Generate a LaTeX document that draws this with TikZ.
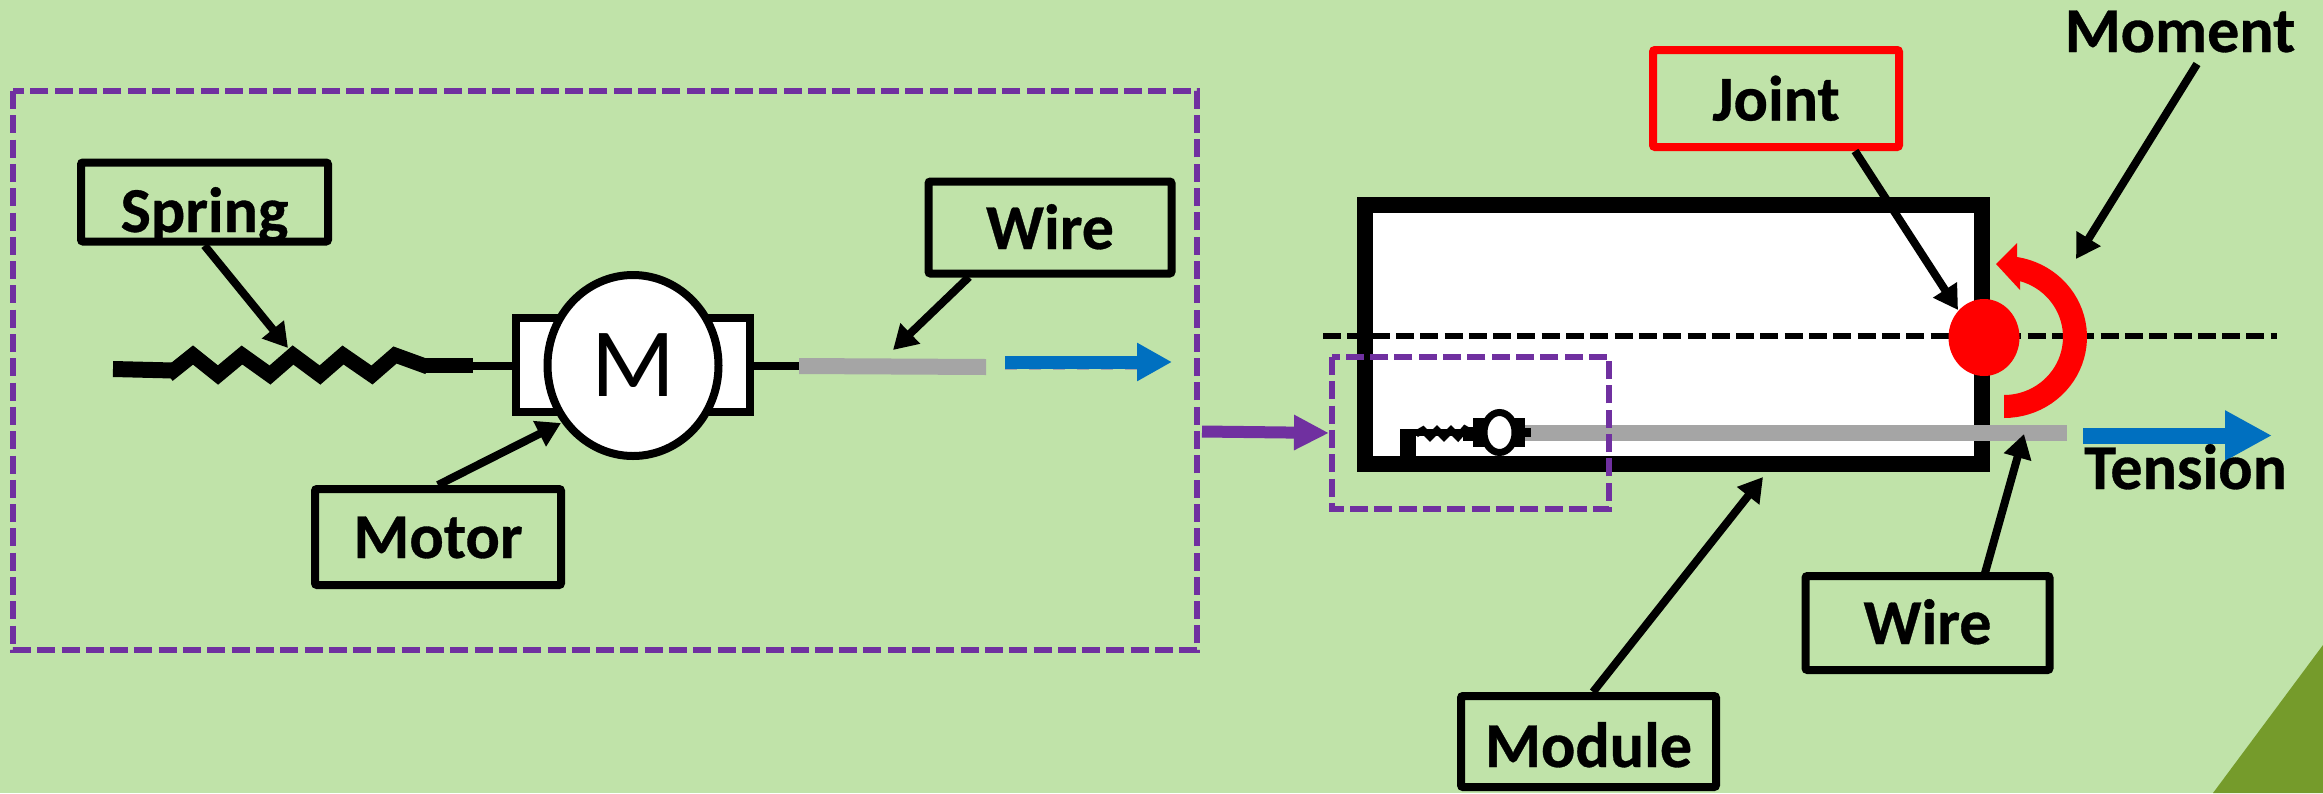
\documentclass[tikz,border=0pt]{standalone}
\usepackage{fontspec}
\setmainfont{Carlito}[BoldFeatures={FakeBold=0.5}]
\usetikzlibrary{arrows.meta,shapes.geometric}
\definecolor{bgc}{HTML}{C0E3A9}
\definecolor{cornerc}{HTML}{759B2B}
\definecolor{purp}{HTML}{7030A0}
\definecolor{bluec}{HTML}{0070C0}
\definecolor{greyc}{HTML}{A5A5A5}
\tikzset{
  lbl/.style={inner sep=0pt,font=\fontsize{64}{64}\selectfont\bfseries},
  lblbox/.style n args={3}{draw=black,line width=8pt,rounded corners=2pt,inner sep=0pt,minimum width=#1,minimum height=#2,
     text height=#3,text depth=0pt,font=\fontsize{64}{64}\selectfont\bfseries},
  pointer/.style={draw=black,line width=8pt,-{Triangle[length=24pt,width=27pt]}},
  purpledash/.style={draw=purp,line width=6pt,dash pattern=on 18pt off 6.3pt},
  axisline/.style={draw=black,line width=6pt,dash pattern=on 18pt off 6.3pt},
  wiregrey/.style={fill=greyc,draw=none},
}
\begin{document}
\begin{tikzpicture}[x=1pt,y=-1pt]
\useasboundingbox (0,0) rectangle (2323,793);
\fill[bgc] (0,0) rectangle (2323,793);
\fill[cornerc] (2213,793) -- (2323,645) -- (2323,793) -- cycle;
% left dashed frame
\draw[purpledash] (13,91) rectangle (1197,650);
% spring
\draw[line width=16pt] (113,369) -- (173,370.5);
\draw[line width=15pt,miter limit=3] (168,375) -- (193,355) -- (218,375) -- (242,355) -- (270,375) -- (293,355) -- (320,375) -- (343,355) -- (372,375) -- (395,355) -- (428,367);
\draw[line width=15pt] (423,365.5) -- (473,365.5);
\draw[line width=8pt] (473,365.5) -- (512,365.5);
% motor
\draw[line width=8pt] (754,366) -- (802,366);
\node[draw=black,fill=white,line width=8pt,minimum width=234pt,minimum height=94pt,inner sep=0pt] (motorbody) at (633,365) {};
\node[draw=black,fill=white,line width=8pt,ellipse,minimum width=171pt,minimum height=181pt,inner sep=0pt,font=\fontsize{98}{98}\selectfont] (motorm) at (633,365.5) {M};
\fill[wiregrey] (799,358) -- (986,359) -- (986,375) -- (799,374) -- cycle;
\coordinate (bluestart) at (1005,362);
\coordinate (blueend) at (1172,362);
\draw[greyc,line width=12pt,dash pattern=on 12pt off 12pt] (1005,364) -- (1137,364);
\draw[bluec,line width=13pt,-{Triangle[length=35pt,width=36pt]}] (bluestart) -- (blueend);
% labels left
\node[lblbox={247pt}{79pt}{60pt}] (springbox) at (204.5,202) {Spring};
\node[lblbox={246pt}{96pt}{42pt}] (motorbox) at (438,537) {Motor};
\node[lblbox={243pt}{92pt}{43pt}] (wirebox) at (1050,227.5) {Wire};
\coordinate (springtip) at (288,348);
\coordinate (motortip) at (561,423);
\coordinate (wirestart) at (969,277);
\coordinate (wiretip) at (893,350);
\draw[pointer] (springbox.south) -- (springtip);
\draw[pointer] (motorbox.north) -- (motortip);
\draw[pointer] (wirestart) -- (wiretip);
% transfer arrow
\coordinate (framestart) at (1202,431.5);
\coordinate (smalltip) at (1329,433);
\draw[purp,line width=12pt,-{Triangle[length=35pt,width=33pt]}] (framestart) -- (smalltip);
% module
\node[draw=black,fill=white,line width=16pt,minimum width=617pt,minimum height=259pt,inner sep=0pt] (modulebody) at (1673.5,334.5) {};
\draw[axisline] (1323,336) -- (2277,336);
% small spring and motor
\fill[black] (1400,429) rectangle (1416,458);
\draw[line width=7pt] (1400,432) -- (1470,432);
\draw[line width=7pt,miter limit=2] (1416,434) -- (1423,430) -- (1430,437) -- (1437,430) -- (1444,437) -- (1451,430) -- (1458,437) -- (1465,429) -- (1472,433);
\fill[black] (1463,427) rectangle (1473,441);
\fill[wiregrey] (1520,425) rectangle (2067,441);
\fill[black] (1473,418) rectangle (1525,447);
\fill[black] (1525,428) rectangle (1531,437);
\node[draw=black,fill=white,line width=7pt,ellipse,minimum width=31pt,minimum height=40pt,inner sep=0pt] (smallmotor) at (1499.5,432.5) {};
% small dashed frame
\draw[purpledash] (1332,357) rectangle (1609,509);
% joint & moment
\node[fill=red,ellipse,minimum width=71pt,minimum height=77pt,inner sep=0pt] (joint) at (1984,337.5) {};
\fill[red] plot[domain=-90:81,samples=40] ({2004+83*cos(\x)},{337-81*sin(\x)})
  -- (2017,243) -- (1996,264) -- (2020,290) -- (2020,280)
  -- plot[domain=74:-90,samples=40] ({2004+59*cos(\x)},{337-58*sin(\x)}) -- cycle;
% tension
\coordinate (tensionstart) at (2083,435.5);
\coordinate (tensiontip) at (2272,435.5);
\draw[bluec,line width=16pt,-{Triangle[length=47pt,width=47pt]}] (tensionstart) -- (tensiontip);
\node[lbl,anchor=base west] (tension) at (2084,489) {Tension};
\node[lbl,anchor=base] (moment) at (2180,52) {Moment};
% labels right
\node[lblbox={246pt}{97pt}{44pt},draw=red] (jointbox) at (1776,98.5) {Joint};
\node[lblbox={244pt}{94pt}{42pt}] (wirebox2) at (1927.5,623) {Wire};
\node[lblbox={255pt}{91pt}{51pt}] (modulebox) at (1588.5,741.5) {Module};
\coordinate (jointstart) at (1855,151);
\coordinate (jointtip) at (1958,310);
\coordinate (momentstart) at (2197,64);
\coordinate (momenttip) at (2076,259);
\coordinate (wire2start) at (1985,573);
\coordinate (wire2tip) at (2024,434);
\coordinate (modulestart) at (1593,692);
\coordinate (moduletip) at (1763,477);
\draw[pointer] (jointstart) -- (jointtip);
\draw[pointer] (momentstart) -- (momenttip);
\draw[pointer] (wire2start) -- (wire2tip);
\draw[pointer] (modulestart) -- (moduletip);
\end{tikzpicture}
\end{document}
